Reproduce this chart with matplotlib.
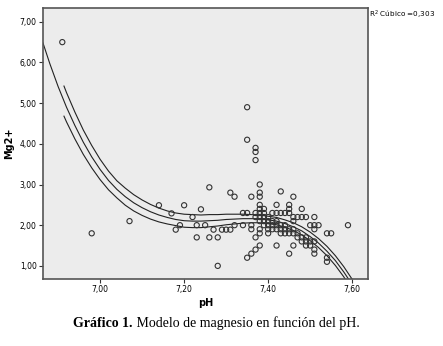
import matplotlib
matplotlib.use("Agg")
import matplotlib.pyplot as plt

# Datos (pH, Mg2+)
ph = [6.91, 6.98, 7.07, 7.14, 7.17, 7.18, 7.19, 7.20, 7.22, 7.23, 7.23, 7.24,
      7.25, 7.26, 7.26, 7.27, 7.28, 7.28, 7.29, 7.30, 7.31, 7.31, 7.32, 7.32,
      7.34, 7.34, 7.35, 7.35, 7.35, 7.35, 7.36, 7.36, 7.36, 7.36, 7.37, 7.37,
      7.37, 7.37, 7.37, 7.37, 7.37, 7.38, 7.38, 7.38, 7.38, 7.38, 7.38, 7.38,
      7.38, 7.38, 7.38, 7.38, 7.39, 7.39, 7.39, 7.39, 7.39, 7.40, 7.40, 7.40,
      7.40, 7.40, 7.41, 7.41, 7.41, 7.41, 7.42, 7.42, 7.42, 7.42, 7.42, 7.42,
      7.43, 7.43, 7.43, 7.43, 7.43, 7.44, 7.44, 7.44, 7.44, 7.45, 7.45, 7.45,
      7.45, 7.45, 7.45, 7.46, 7.46, 7.46, 7.46, 7.46, 7.46, 7.47, 7.47, 7.47,
      7.48, 7.48, 7.48, 7.48, 7.49, 7.49, 7.49, 7.49, 7.50, 7.50, 7.50, 7.51,
      7.51, 7.51, 7.51, 7.51, 7.51, 7.52, 7.54, 7.55, 7.54, 7.54, 7.59]
mg = [6.50, 1.80, 2.10, 2.49, 2.29, 1.89, 2.00, 2.49, 2.20, 2.00, 1.70, 2.39,
      2.00, 1.70, 2.93, 1.89, 1.70, 1.00, 1.89, 1.89, 1.89, 2.80, 2.70, 2.00,
      2.00, 2.30, 2.30, 4.90, 4.10, 1.20, 2.70, 2.00, 1.90, 1.30, 3.90, 3.80,
      3.60, 1.70, 1.40, 2.20, 2.30, 3.00, 2.80, 2.70, 2.50, 2.40, 2.30, 2.20,
      2.10, 1.90, 1.80, 1.50, 2.40, 2.30, 2.20, 2.10, 2.00, 2.20, 2.10, 2.00,
      1.90, 1.80, 2.30, 2.10, 2.00, 1.90, 2.50, 2.30, 2.10, 2.00, 1.90, 1.50,
      2.83, 2.30, 2.00, 1.90, 1.80, 2.30, 2.00, 1.90, 1.80, 2.50, 2.40, 2.30,
      1.90, 1.80, 1.30, 2.70, 2.20, 2.10, 1.90, 1.80, 1.50, 2.20, 1.80, 1.70,
      2.40, 2.20, 1.70, 1.60, 2.20, 1.70, 1.60, 1.50, 2.00, 1.60, 1.50, 2.20,
      2.00, 1.90, 1.60, 1.40, 1.30, 2.00, 1.80, 1.80, 1.20, 1.10, 2.00]

# ajuste cubico
fit_x = [6.864, 6.88, 6.90, 6.92, 6.94, 6.96, 6.98, 7.00, 7.02, 7.04, 7.06,
         7.08, 7.10, 7.12, 7.14, 7.16, 7.18, 7.20, 7.22, 7.24, 7.26, 7.28,
         7.30, 7.32, 7.34, 7.36, 7.38, 7.40, 7.42, 7.44, 7.46, 7.48, 7.50,
         7.52, 7.54, 7.56, 7.58, 7.60, 7.62]
fit_y = [6.48, 5.98, 5.41, 4.90, 4.45, 4.04, 3.68, 3.37, 3.10, 2.88, 2.70,
         2.55, 2.43, 2.33, 2.25, 2.19, 2.14, 2.11, 2.10, 2.10, 2.11, 2.12,
         2.14, 2.15, 2.16, 2.16, 2.16, 2.13, 2.10, 2.04, 1.96, 1.86, 1.72,
         1.56, 1.36, 1.13, 0.85, 0.54, 0.17]

# bandas IC 95% de la media
ci_x = [6.914, 6.92, 6.94, 6.96, 6.98, 7.00, 7.02, 7.04, 7.06, 7.08, 7.10,
        7.12, 7.14, 7.16, 7.18, 7.20, 7.22, 7.24, 7.26, 7.28, 7.30, 7.32,
        7.34, 7.36, 7.38, 7.40, 7.42, 7.44, 7.46, 7.48, 7.50, 7.52, 7.54,
        7.56, 7.58, 7.60]
ci_up = [5.42, 5.26, 4.78, 4.34, 3.96, 3.62, 3.33, 3.09, 2.91, 2.75, 2.62,
         2.51, 2.42, 2.35, 2.30, 2.27, 2.26, 2.25, 2.26, 2.26, 2.27, 2.27,
         2.27, 2.26, 2.25, 2.22, 2.19, 2.13, 2.06, 1.96, 1.83, 1.67, 1.48,
         1.25, 0.98, 0.67]
ci_lo = [4.68, 4.54, 4.12, 3.74, 3.41, 3.12, 2.87, 2.67, 2.49, 2.35, 2.24,
         2.15, 2.08, 2.03, 1.99, 1.95, 1.94, 1.94, 1.96, 1.98, 2.01, 2.03,
         2.05, 2.06, 2.06, 2.04, 2.01, 1.95, 1.87, 1.76, 1.62, 1.45, 1.25,
         1.01, 0.73, 0.41]

x_ticks = [7.00, 7.20, 7.40, 7.60]
y_ticks = [1.00, 2.00, 3.00, 4.00, 5.00, 6.00, 7.00]

fig = plt.figure(figsize=(4.43, 3.46), dpi=100)
ax = fig.add_axes([0.097, 0.194, 0.734, 0.783])
ax.set_facecolor("#ececec")

ax.scatter(ph, mg, s=14, facecolors="none", edgecolors="#333333", linewidths=0.8, zorder=3)
ax.plot(fit_x, fit_y, color="#222222", lw=0.8, zorder=2)
ax.plot(ci_x, ci_up, color="#222222", lw=0.8, zorder=2)
ax.plot(ci_x, ci_lo, color="#222222", lw=0.8, zorder=2)

ax.set_xlim(6.864, 7.638)
ax.set_ylim(0.68, 7.34)
ax.set_xticks(x_ticks)
ax.set_yticks(y_ticks)
ax.set_xticklabels([f"{v:.2f}".replace(".", ",") for v in x_ticks])
ax.set_yticklabels([f"{v:.2f}".replace(".", ",") for v in y_ticks])
ax.tick_params(labelsize=5.5, length=3, width=0.8, color="#333333", pad=1.5)
for sp in ax.spines.values():
    sp.set_color("#555555")
    sp.set_linewidth(1.2)

ax.set_xlabel("pH", fontsize=7, fontweight="bold", labelpad=3)
ax.set_ylabel("Mg2+", fontsize=7, fontweight="bold", labelpad=4)

fig.text(0.833, 0.958, "R$^2$ Cúbico =0,303", fontsize=5.2, ha="left", va="center")

# pie de figura
fig.canvas.draw()
t1 = fig.text(0.165, 0.055, "Gráfico 1.", fontsize=10, fontweight="bold",
              family="Liberation Serif", ha="left", va="baseline")
r = fig.canvas.get_renderer()
bb = t1.get_window_extent(r)
fig.text(bb.x1 / fig.bbox.width, 0.055, " Modelo de magnesio en función del pH.",
         fontsize=10, family="Liberation Serif", ha="left", va="baseline")

fig.savefig("out.png", dpi=100)
